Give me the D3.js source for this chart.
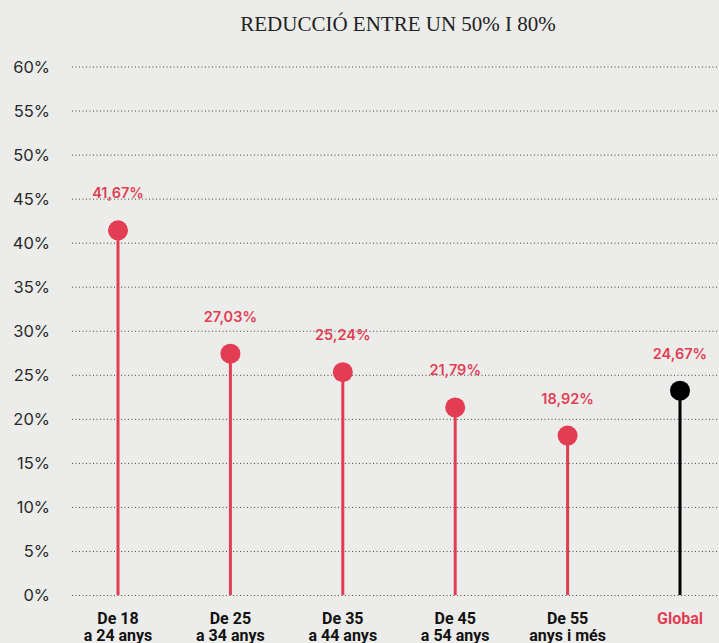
<!DOCTYPE html>
<html>
<head>
<meta charset="utf-8">
<script src="https://cdn.jsdelivr.net/npm/d3@7"></script>
<style>
  html, body { margin: 0; padding: 0; background: #ecedea; }
  #chart { width: 719px; height: 643px; overflow: hidden; }
</style>
</head>
<body>
<div id="chart"></div>
<script>
(function() {
  var w = 719,
      h = 643;

  // data
  var groups = ["De 18|a 24 anys", "De 25|a 34 anys", "De 35|a 44 anys", "De 45|a 54 anys", "De 55|anys i més", "Global"];
  var values = [41.4, 27.4, 25.3, 21.3, 18.1, 23.2];
  var labels = ["41,67%", "27,03%", "25,24%", "21,79%", "18,92%", "24,67%"];
  var yTicks = [0, 5, 10, 15, 20, 25, 30, 35, 40, 45, 50, 55, 60];

  var red = "#e23d53",
      black = "#000";

  var svg = d3.select("#chart")
    .append("svg")
    .attr("width", w)
    .attr("height", h)

  svg.append("rect")
    .attr("width", w)
    .attr("height", h)
    .attr("fill", "#ecedea")

  var y = d3.scaleLinear().domain([0, 60]).range([595, 66.5])
  var x = d3.scalePoint().domain(groups).range([118, 680])

  // title
  svg.append("text")
    .attr("x", 398)
    .attr("y", 31)
    .attr("text-anchor", "middle")
    .attr("font-family", "Liberation Serif, serif")
    .attr("font-size", 21)
    .attr("fill", "#222")
    .text("REDUCCIÓ ENTRE UN 50% I 80%")

  // y axis: dotted gridlines + labels
  var yAxis = d3.axisLeft(y)
    .tickValues(yTicks)
    .tickFormat(function(d) { return d + "%" })
    .tickSize(-(w - 72))
    .tickPadding(22)

  var ga = svg.append("g")
    .attr("transform", "translate(72,0)")
    .call(yAxis)

  ga.select(".domain").remove()
  ga.selectAll(".tick line")
    .attr("stroke", "#444")
    .attr("stroke-dasharray", "1,2.5")
  ga.selectAll(".tick text")
    .attr("font-family", "Inter, sans-serif")
    .attr("font-size", 16.5)
    .attr("fill", "#2a2a2a")
    .attr("dy", "0.35em")

  // x labels
  var xl = svg.selectAll(".xlab")
    .data(groups)
    .enter().append("text")
    .attr("class", "xlab")
    .attr("x", function(d) { return x(d) })
    .attr("y", 624)
    .attr("text-anchor", "middle")
    .attr("font-family", "Liberation Sans Narrow, Roboto, sans-serif")
    .attr("font-weight", "bold")
    .attr("font-size", 16)
    .attr("fill", function(d, i) { return i == groups.length - 1 ? red : "#111" })

  xl.each(function(d) {
    var parts = d.split("|")
    var t = d3.select(this)
    parts.forEach(function(p, j) {
      t.append("tspan")
        .attr("x", x(d))
        .attr("dy", j == 0 ? 0 : 17)
        .text(p)
    })
  })

  // lollipops
  var colorOf = function(i) { return i == groups.length - 1 ? black : red }

  svg.selectAll(".stem")
    .data(values)
    .enter().append("line")
    .attr("class", "stem")
    .attr("x1", function(d, i) { return x(groups[i]) })
    .attr("x2", function(d, i) { return x(groups[i]) })
    .attr("y1", y(0))
    .attr("y2", function(d) { return y(d) })
    .attr("stroke", function(d, i) { return colorOf(i) })
    .attr("stroke-width", 3)

  svg.selectAll(".dot")
    .data(values)
    .enter().append("circle")
    .attr("class", "dot")
    .attr("cx", function(d, i) { return x(groups[i]) })
    .attr("cy", function(d) { return y(d) })
    .attr("r", 10)
    .attr("fill", function(d, i) { return colorOf(i) })

  svg.selectAll(".val")
    .data(values)
    .enter().append("text")
    .attr("class", "val")
    .attr("x", function(d, i) { return x(groups[i]) })
    .attr("y", function(d) { return y(d) - 37 })
    .attr("dy", "0.35em")
    .attr("text-anchor", "middle")
    .attr("font-family", "Inter, sans-serif")
    .attr("font-weight", 600)
    .attr("font-size", 14.5)
    .attr("fill", red)
    .text(function(d, i) { return labels[i] })

})();
</script>
</body>
</html>
